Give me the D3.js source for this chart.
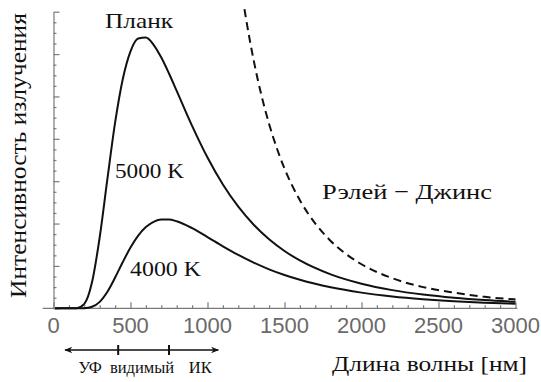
<!DOCTYPE html>
<html><head><meta charset="utf-8">
<script src="https://cdn.jsdelivr.net/npm/d3@7"></script>
<style>html,body{margin:0;padding:0;background:#fff;}svg{display:block;}</style>
</head><body>
<svg id="chart" width="541" height="382"></svg>
<script>
// wavelengths (nm)
const wavelengths = [10,100,150,200,250,300,350,400,450,500,550,600,650,700,750,800,900,1000,1100,1200,1300,1400,1500,1600,1800,2000,2200,2400,2600,2800,3000];
// Planck 5000 K (relative units)
const planck5000 = [0,0,0.004,0.105,0.613,1.677,3.054,4.380,5.411,6.066,6.368,6.393,6.219,5.917,5.541,5.131,4.306,3.558,2.922,2.398,1.973,1.629,1.353,1.129,0.800,0.580,0.429,0.324,0.248,0.193,0.153];
// Planck 4000 K
const planck4000 = [0,0,0,0.003,0.035,0.152,0.391,0.725,1.092,1.435,1.715,1.916,2.040,2.095,2.095,2.053,1.892,1.681,1.464,1.260,1.078,0.920,0.786,0.672,0.495,0.370,0.280,0.216,0.168,0.133,0.106];
// Rayleigh–Jeans (dashed)
const rjWavelengths = [1240,1250,1300,1350,1400,1450,1500,1600,1700,1800,1900,2000,2200,2400,2600,2800,3000];
const rjValues = [7.06,6.84,5.85,5.03,4.35,3.78,3.30,2.55,2.00,1.59,1.28,1.04,0.71,0.50,0.37,0.27,0.21];
// ticks
const xTickLabels = [0,500,1000,1500,2000,2500,3000];
const yMajorTicks = [0,1,2,3,4,5,6,7];
// spectral band marker
const bandEnds = [75,1070];
const bandDividers = [420,750];
const bandLabels = [{t:"УФ", v:238},{t:"видимый", v:575},{t:"ИК", v:953}];

const SERIF = '"Liberation Serif"';
const SANS = '"Liberation Sans"';

const svg = d3.select("#chart");
const x = d3.scaleLinear().domain([0,3000]).range([53.5,515.5]);
const y = d3.scaleLinear().domain([0,7]).range([308.3,11.7]);
const axisColor = "#7a7a7a";

// Y axis
const yMinor = d3.range(0,7.001,0.25).filter(v=>Math.abs(v-Math.round(v))>1e-6);
const gy = svg.append("g").attr("transform",`translate(${x(0)},0)`);
gy.call(d3.axisRight(y).tickValues(yMajorTicks).tickSize(6).tickFormat("").tickSizeOuter(0));
gy.append("g").call(d3.axisRight(y).tickValues(yMinor).tickSize(3).tickFormat("").tickSizeOuter(0)).select(".domain").remove();
gy.selectAll("path,line").attr("stroke",axisColor).attr("stroke-width",1.2);

// X axis
const xMinor = d3.range(100,3001,100).filter(v=>v%500!==0);
const gx = svg.append("g").attr("transform",`translate(0,${y(0)})`);
gx.append("line").attr("x1",x(-70)).attr("x2",x(3012)).attr("y1",0).attr("y2",0);
gx.append("g").call(d3.axisBottom(x).tickValues(xTickLabels).tickSize(-6).tickFormat("")).select(".domain").remove();
gx.append("g").call(d3.axisBottom(x).tickValues(xMinor).tickSize(-3).tickFormat("")).select(".domain").remove();
gx.selectAll("path,line").attr("stroke",axisColor).attr("stroke-width",1.2);
gx.selectAll(".xl").data(xTickLabels).enter().append("text")
  .style("font-family",SANS)
  .attr("x",d=>x(d)).attr("y",25).attr("text-anchor","middle")
  .attr("font-size",22).attr("fill","#6a6a6a")
  .text(d=>d);

// curves
const line = d3.line().x(d=>x(d[0])).y(d=>y(d[1])).curve(d3.curveMonotoneX);
[planck5000, planck4000].forEach(vals=>{
  svg.append("path").datum(wavelengths.map((w,i)=>[w,vals[i]]))
    .attr("d",line).attr("fill","none").attr("stroke","#111").attr("stroke-width",2);
});
svg.append("path").datum(rjWavelengths.map((w,i)=>[w,rjValues[i]]))
  .attr("d",line).attr("fill","none").attr("stroke","#111").attr("stroke-width",2)
  .attr("stroke-dasharray","8,5");

// annotations
function label(t,xx,yy,size,len){
  const e = svg.append("text").style("font-family",SERIF).attr("x",xx).attr("y",yy)
    .attr("font-size",size).attr("fill","#111").text(t);
  if(len){e.attr("textLength",len).attr("lengthAdjust","spacingAndGlyphs");}
  return e;
}
label("Планк",105,28,21,68);
label("5000 K",115,178,22,69);
label("4000 K",130,276,22,71);
label("Рэлей − Джинс",322,199,22,170);
label("Длина волны [нм]",332,371,21,195);
svg.append("text").style("font-family",SERIF).attr("transform","translate(26,155.5) rotate(-90)")
  .attr("text-anchor","middle").attr("font-size",23).attr("fill","#111")
  .attr("textLength",285).attr("lengthAdjust","spacingAndGlyphs")
  .text("Интенсивность излучения");

// spectral band arrow
const defs = svg.append("defs");
defs.append("marker").attr("id","ah").attr("viewBox","0 0 10 10").attr("refX",9).attr("refY",5)
  .attr("markerWidth",9).attr("markerHeight",8).attr("orient","auto-start-reverse").attr("markerUnits","userSpaceOnUse")
  .append("path").attr("d","M0,1 L10,5 L0,9 L3,5 Z").attr("fill","#111");
const ay = 350;
svg.append("line").attr("x1",x(bandEnds[0])).attr("x2",x(bandEnds[1])).attr("y1",ay).attr("y2",ay)
  .attr("stroke","#111").attr("stroke-width",1.6).attr("marker-start","url(#ah)").attr("marker-end","url(#ah)");
svg.selectAll(".bd").data(bandDividers).enter().append("line")
  .attr("x1",d=>x(d)).attr("x2",d=>x(d)).attr("y1",ay-5).attr("y2",ay+5)
  .attr("stroke","#111").attr("stroke-width",2);
svg.selectAll(".bl").data(bandLabels).enter().append("text")
  .style("font-family",SERIF)
  .attr("x",d=>x(d.v)).attr("y",373).attr("text-anchor","middle")
  .attr("font-size",16.5).attr("fill","#111").text(d=>d.t);
</script>
</body></html>
